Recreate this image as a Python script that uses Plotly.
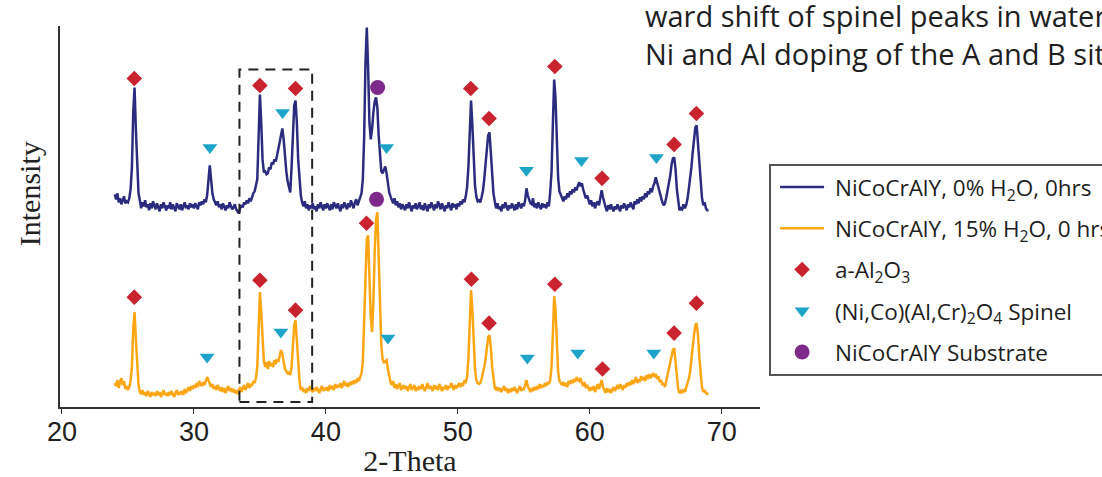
import numpy as np
import plotly.graph_objects as go

# ---------------- data ----------------
two_theta_start = 24.0
two_theta_step = 0.1

# NiCoCrAlY, 0% H2O, 0hrs (upper, offset pattern); one row per degree (x.0 .. x.9)
blue_intensity = [
    213, 208, 214, 205, 209, 203, 207, 211, 204, 206,  # 24
    205, 209, 218, 240, 295, 320, 278, 235, 214, 207,  # 25
    199, 205, 201, 207, 200, 203, 197, 204, 199, 206,  # 26
    201, 198, 204, 200, 196, 203, 199, 205, 200, 197,  # 27
    202, 199, 205, 198, 203, 200, 196, 204, 201, 198,  # 28
    203, 197, 201, 205, 199, 202, 198, 204, 200, 203,  # 29
    199, 204, 201, 198, 205, 202, 206, 203, 208, 205,  # 30
    212, 226, 242, 228, 214, 208, 205, 202, 206, 200,  # 31
    203, 198, 204, 200, 197, 202, 199, 205, 201, 198,  # 32
    200, 203, 198, 196, 194, 199, 202, 200, 205, 203,  # 33
    207, 204, 209, 206, 211, 214, 216, 222, 228, 270,  # 34
    313, 285, 248, 235, 236, 233, 234, 240, 238, 245,  # 35
    243, 248, 246, 252, 258, 266, 272, 279, 268, 250,  # 36
    236, 226, 219, 215, 240, 278, 302, 307, 285, 248,  # 37
    225, 212, 205, 201, 206, 199, 203, 197, 202, 199,  # 38
    204, 198, 201, 196, 203, 199, 205, 200, 197, 203,  # 39
    199, 204, 200, 197, 203, 198, 205, 201, 199, 204,  # 40
    200, 196, 203, 199, 205, 201, 198, 204, 200, 207,  # 41
    203, 199, 205, 208, 202, 206, 210, 214, 228, 270,  # 42
    345, 380, 340, 285, 268, 278, 295, 306, 310, 300,  # 43
    272, 250, 236, 234, 238, 241, 234, 222, 215, 211,  # 44
    208, 204, 209, 202, 206, 200, 204, 198, 203, 200,  # 45
    197, 203, 199, 205, 200, 196, 202, 199, 204, 198,  # 46
    201, 205, 198, 202, 197, 204, 200, 196, 203, 199,  # 47
    205, 200, 197, 203, 199, 206, 201, 198, 204, 200,  # 48
    196, 202, 199, 205, 201, 197, 204, 200, 203, 198,  # 49
    204, 201, 206, 203, 208, 205, 211, 220, 240, 278,  # 50
    307, 282, 245, 222, 211, 206, 207, 205, 210, 216,  # 51
    228, 240, 258, 272, 275, 255, 230, 214, 206, 199,  # 52
    204, 198, 201, 196, 203, 199, 205, 200, 197, 202,  # 53
    199, 204, 200, 197, 203, 198, 205, 201, 199, 204,  # 54
    201, 207, 219, 212, 208, 204, 203, 209, 200, 204,  # 55
    199, 205, 201, 198, 204, 200, 203, 199, 205, 201,  # 56
    215, 235, 282, 328, 310, 262, 230, 216, 212, 210,  # 57
    206, 211, 208, 214, 210, 216, 213, 218, 215, 220,  # 58
    217, 222, 225, 221, 224, 218, 214, 209, 212, 206,  # 59
    203, 207, 201, 205, 199, 204, 206, 202, 209, 217,  # 60
    210, 204, 200, 196, 202, 198, 203, 199, 196, 201,  # 61
    198, 203, 200, 196, 202, 199, 204, 200, 197, 203,  # 62
    200, 205, 202, 198, 206, 203, 208, 204, 210, 206,  # 63
    211, 208, 214, 210, 216, 213, 219, 215, 221, 224,  # 64
    230, 225, 220, 214, 209, 205, 202, 204, 210, 218,  # 65
    222, 232, 243, 249, 250, 238, 218, 204, 197, 199,  # 66
    198, 203, 199, 202, 208, 218, 228, 240, 255, 268,  # 67
    280, 282, 262, 240, 222, 210, 202, 205, 199, 197,  # 68
    197,                                               # 69.0
]

# NiCoCrAlY, 15% H2O, 0 hrs (lower pattern)
orange_intensity = [
    24, 21, 27, 19, 25, 29, 22, 26, 18, 21,     # 24
    17, 20, 26, 40, 78, 95, 68, 36, 22, 15,     # 25
    13, 17, 12, 15, 11, 16, 13, 10, 15, 12,     # 26
    14, 11, 16, 12, 15, 10, 13, 17, 12, 14,     # 27
    11, 15, 12, 16, 13, 10, 14, 17, 12, 15,     # 28
    13, 16, 12, 18, 14, 17, 20, 16, 21, 18,     # 29
    22, 19, 24, 20, 26, 23, 21, 25, 22, 26,     # 30
    30, 27, 24, 20, 23, 18, 21, 17, 22, 19,     # 31
    16, 20, 15, 19, 14, 18, 21, 16, 19, 15,     # 32
    18, 14, 17, 13, 16, 20, 15, 18, 22, 17,     # 33
    20, 24, 19, 23, 21, 26, 24, 29, 40, 82,     # 34
    115, 95, 62, 46, 40, 45, 38, 46, 41, 44,    # 35
    40, 47, 43, 48, 45, 52, 57, 53, 44, 38,     # 36
    36, 33, 35, 32, 40, 62, 82, 87, 68, 42,     # 37
    26, 17, 20, 15, 18, 14, 19, 16, 21, 17,     # 38
    15, 19, 16, 20, 17, 14, 18, 21, 16, 19,     # 39
    17, 20, 16, 22, 18, 21, 17, 23, 19, 22,     # 40
    20, 24, 19, 22, 26, 21, 24, 20, 25, 22,     # 41
    26, 23, 27, 24, 29, 26, 31, 34, 45, 85,     # 42
    140, 168, 172, 135, 90, 75, 105, 155, 188, 195,  # 43
    150, 95, 62, 48, 44, 46, 47, 38, 30, 25,    # 44
    22, 26, 19, 23, 18, 21, 24, 17, 20, 22,     # 45
    18, 21, 16, 20, 23, 17, 19, 22, 16, 20,     # 46
    17, 21, 18, 23, 19, 16, 20, 24, 18, 21,     # 47
    19, 16, 22, 18, 21, 17, 23, 19, 16, 20,     # 48
    18, 22, 17, 21, 19, 24, 20, 17, 22, 19,     # 49
    21, 24, 20, 23, 22, 26, 25, 30, 48, 88,     # 50
    117, 98, 62, 38, 27, 24, 23, 24, 28, 33,    # 51
    40, 48, 60, 70, 72, 60, 40, 26, 19, 17,     # 52
    20, 16, 19, 15, 18, 21, 16, 19, 14, 18,     # 53
    15, 19, 16, 20, 17, 14, 18, 21, 16, 19,     # 54
    17, 22, 27, 21, 18, 15, 19, 16, 20, 17,     # 55
    21, 18, 23, 19, 22, 20, 24, 21, 25, 23,     # 56
    27, 40, 72, 111, 98, 62, 36, 26, 24, 22,    # 57
    25, 21, 24, 20, 26, 23, 27, 24, 28, 25,     # 58
    30, 27, 26, 29, 24, 21, 25, 19, 22, 18,     # 59
    16, 20, 17, 21, 15, 19, 23, 18, 22, 27,     # 60
    20, 17, 14, 19, 15, 18, 14, 17, 20, 16,     # 61
    19, 22, 18, 23, 20, 17, 22, 19, 24, 21,     # 62
    25, 22, 27, 23, 26, 30, 24, 28, 25, 31,     # 63
    27, 30, 26, 32, 28, 33, 29, 31, 34, 30,     # 64
    33, 28, 31, 25, 27, 22, 24, 20, 26, 32,     # 65
    38, 45, 52, 57, 59, 45, 28, 18, 14, 16,     # 66
    14, 18, 15, 19, 22, 28, 35, 45, 60, 72,     # 67
    82, 84, 72, 50, 32, 20, 15, 17, 14, 13,     # 68
    13,                                         # 69.0
]

# phase markers (2-theta, marker height)
alumina_theta = [25.48, 35.0, 37.7, 43.08, 50.98, 52.37, 57.35, 60.93, 66.39, 68.08,
                 25.48, 35.0, 37.7, 43.08, 51.03, 52.37, 57.35, 60.96, 66.39, 68.08]
alumina_level = [329, 322, 319, 390, 319, 289, 341, 229, 263, 294,
                 110, 127, 97, 184, 128, 84, 123, 38, 74, 104]

spinel_theta = [31.21, 36.72, 44.6, 55.2, 59.37, 65.05,
                31.0, 36.59, 44.7, 55.27, 59.09, 64.85]
spinel_level = [260, 295, 260, 237, 247, 250,
                50, 75, 69, 49, 54, 54]

substrate_theta = [43.92, 43.84]
substrate_level = [320, 208]

highlight_theta = [33.45, 38.96]
highlight_level = [5, 338]

x_ticks = [20, 30, 40, 50, 60, 70]

series_names = ["NiCoCrAlY, 0% H<sub>2</sub>O, 0hrs",
                "NiCoCrAlY, 15% H<sub>2</sub>O, 0 hrs",
                "a-Al<sub>2</sub>O<sub>3</sub>",
                "(Ni,Co)(Al,Cr)<sub>2</sub>O<sub>4</sub> Spinel",
                "NiCoCrAlY Substrate"]

caption_lines = ["ward shift of spinel peaks in water",
                 "Ni and Al doping of the A and B sites"]

# ---------------- figure ----------------
two_theta = np.round(two_theta_start + two_theta_step * np.arange(len(blue_intensity)), 2)
pad = "\u00a0"

fig = go.Figure()
fig.add_trace(go.Scatter(x=two_theta, y=blue_intensity, mode="lines",
                         line=dict(color="#2b2c80", width=2.5),
                         name=pad + series_names[0], legendgroup="g1", cliponaxis=False))
fig.add_trace(go.Scatter(x=two_theta, y=orange_intensity, mode="lines",
                         line=dict(color="#fda614", width=2.5),
                         name=pad + series_names[1], legendgroup="g2", cliponaxis=False))
fig.add_trace(go.Scatter(x=alumina_theta, y=alumina_level, mode="markers",
                         marker=dict(symbol="diamond", size=12, color="#c8232f"),
                         name=pad + series_names[2], legendgroup="g3", cliponaxis=False))
fig.add_trace(go.Scatter(x=spinel_theta, y=spinel_level, mode="markers",
                         marker=dict(symbol="triangle-down", size=13, color="#1ea4c9"),
                         name=pad + series_names[3], legendgroup="g4", cliponaxis=False))
fig.add_trace(go.Scatter(x=substrate_theta, y=substrate_level, mode="markers",
                         marker=dict(symbol="circle", size=15, color="#7d2a8b"),
                         name=pad + series_names[4], legendgroup="g5", cliponaxis=False))

fig.add_shape(type="rect", xref="x", yref="y",
              x0=highlight_theta[0], x1=highlight_theta[1],
              y0=highlight_level[0], y1=highlight_level[1],
              line=dict(color="#222222", width=2, dash="10px,7px"))

fig.add_annotation(text="Intensity", xref="paper", yref="paper", x=-0.044, y=0.559,
                   textangle=-90, showarrow=False, xanchor="center", yanchor="middle",
                   font=dict(family="Liberation Serif", size=30, color="#222222"))

for line_text, ypos in zip(caption_lines, [1.0841, 0.9845]):
    fig.add_annotation(text=line_text, xref="paper", yref="paper", x=0.833, y=ypos,
                       xanchor="left", yanchor="top", align="left", showarrow=False,
                       font=dict(family="Open Sans", size=29, color="#1e1e1e"))

fig.update_layout(
    width=1102, height=477,
    margin=dict(l=60, r=342, t=26, b=70, autoexpand=False),
    paper_bgcolor="white", plot_bgcolor="white",
    showlegend=True,
    legend=dict(x=1.013, y=0.638, xanchor="left", yanchor="top",
                bordercolor="#555555", borderwidth=2, bgcolor="white",
                font=dict(family="Open Sans", size=22.5, color="#1e1e1e"),
                tracegroupgap=9, itemwidth=44, indentation=4),
    xaxis=dict(range=[19.85, 72.9], tickvals=x_ticks, ticks="outside", ticklen=5,
               tickcolor="#333333", showline=True, linecolor="#333333", linewidth=1.5,
               showgrid=False, zeroline=False, ticklabelstandoff=-5,
               tickfont=dict(family="Liberation Sans Narrow, Liberation Sans", size=27, color="#1e1e1e"),
               title=dict(text="2-Theta", standoff=10,
                          font=dict(family="Liberation Serif", size=30, color="#222222"))),
    yaxis=dict(range=[0, 381.6], showticklabels=False, ticks="", showline=True,
               linecolor="#333333", linewidth=1.5, showgrid=False, zeroline=False),
)

fig.write_html("out.html", config={"displayModeBar": False},
               post_script="document.body.style.margin='0px';")
